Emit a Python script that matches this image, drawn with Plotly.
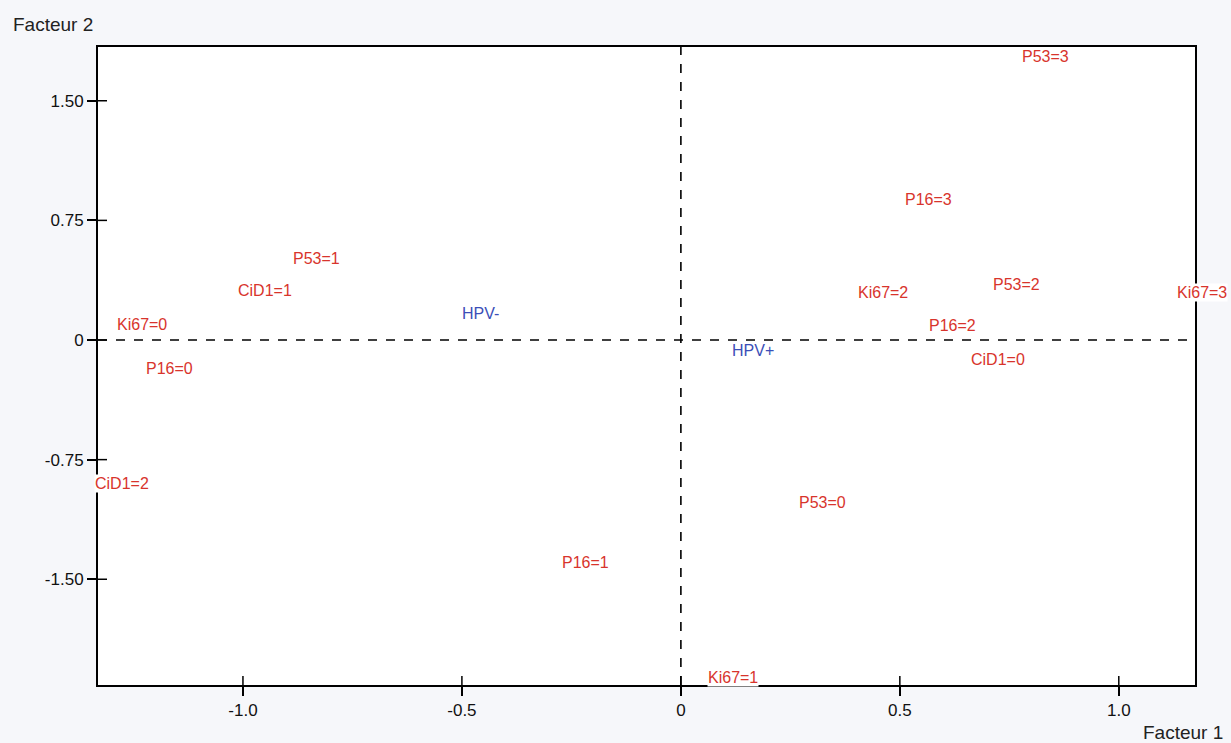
import plotly.graph_objects as go

# Category labels (correspondence analysis)
labels = ["P53=3", "P16=3", "Ki67=2", "P53=2", "Ki67=3", "P16=2", "CiD1=0",
          "HPV-", "HPV+", "P53=0", "P16=1", "Ki67=1", "Ki67=0", "P16=0",
          "CiD1=2", "P53=1", "CiD1=1"]
factor1 = [0.833, 0.566, 0.461, 0.767, 1.190, 0.621, 0.724,
           -0.457, 0.164, 0.324, -0.217, 0.119, -1.231, -1.167,
           -1.276, -0.833, -0.950]
factor2 = [1.78, 0.884, 0.295, 0.351, 0.295, 0.088, -0.125,
           0.169, -0.063, -1.016, -1.392, -2.113, 0.100, -0.176,
           -0.897, 0.514, 0.313]
groups = ["var", "var", "var", "var", "var", "var", "var",
          "sup", "sup", "var", "var", "var", "var", "var",
          "var", "var", "var"]

x_ticks = [-1.0, -0.5, 0, 0.5, 1.0]
x_tick_text = ["-1.0", "-0.5", "0", "0.5", "1.0"]
y_ticks = [1.5, 0.75, 0, -0.75, -1.5]
y_tick_text = ["1.50", "0.75", "0", "-0.75", "-1.50"]

X_RANGE = [-1.331, 1.174]
Y_RANGE = [-2.163, 1.837]

RED = "#d8342c"
BLUE = "#3b4fb8"
FONT = "Liberation Sans, Arial, sans-serif"

fig = go.Figure()
fig.add_trace(go.Scatter(x=factor1, y=factor2, mode="markers",
                         marker=dict(size=1, color="rgba(0,0,0,0)"),
                         hoverinfo="text", text=labels, showlegend=False,
                         cliponaxis=False))

for lab, xv, yv, g in zip(labels, factor1, factor2, groups):
    font = dict(family=FONT, size=16, color=BLUE if g == "sup" else RED)
    if X_RANGE[0] <= xv <= X_RANGE[1]:
        fig.add_annotation(x=xv, y=yv, xref="x", yref="y", text=lab, showarrow=False,
                           font=font, bgcolor="white", borderpad=0,
                           xanchor="center", yanchor="middle")
    else:
        # point lies beyond the frame: place via paper fraction of the same axis
        xp = (xv - X_RANGE[0]) / (X_RANGE[1] - X_RANGE[0])
        fig.add_annotation(x=xp, y=yv, xref="paper", yref="y", text=lab, showarrow=False,
                           font=font, bgcolor="white", borderpad=0,
                           xanchor="center", yanchor="middle")

# dashed axes through origin
fig.add_shape(type="line", xref="paper", yref="y", x0=0, x1=1, y0=0, y1=0,
              line=dict(color="black", width=1.6, dash="dash"), layer="below")
fig.add_shape(type="line", xref="x", yref="paper", x0=0, x1=0, y0=0, y1=1,
              line=dict(color="black", width=1.6, dash="dash"), layer="below")

# inner half of the crossing tick marks
for t in y_ticks:
    fig.add_shape(type="line", xref="paper", xsizemode="pixel", xanchor=0,
                  x0=0, x1=9, yref="y", y0=t, y1=t,
                  line=dict(color="black", width=1.5))
for t in x_ticks:
    fig.add_shape(type="line", yref="paper", ysizemode="pixel", yanchor=0,
                  y0=0, y1=9, xref="x", x0=t, x1=t,
                  line=dict(color="black", width=1.5))

fig.add_annotation(text="Facteur 2", xref="paper", yref="paper", x=-0.079, y=1.036,
                   xanchor="left", yanchor="middle", showarrow=False,
                   font=dict(family=FONT, size=19, color="#222"))
fig.add_annotation(text="Facteur 1", xref="paper", yref="paper", x=1.0274, y=-0.075,
                   xanchor="right", yanchor="middle", showarrow=False,
                   font=dict(family=FONT, size=19, color="#222"))

fig.update_xaxes(range=X_RANGE, tickvals=x_ticks, ticktext=x_tick_text,
                 showgrid=False, zeroline=False, showline=True, mirror=True,
                 linecolor="black", linewidth=2, ticks="outside", ticklen=9,
                 tickwidth=1.5, tickcolor="black",
                 tickfont=dict(family=FONT, size=17, color="#111"))
fig.update_yaxes(range=Y_RANGE, tickvals=y_ticks, ticktext=y_tick_text,
                 showgrid=False, zeroline=False, showline=True, mirror=True,
                 linecolor="black", linewidth=2, ticks="outside", ticklen=9,
                 tickwidth=1.5, tickcolor="black",
                 tickfont=dict(family=FONT, size=17, color="#111"))

fig.update_layout(width=1231, height=743,
                  margin=dict(l=98, r=36, t=47, b=58),
                  paper_bgcolor="#f6f7fa", plot_bgcolor="white",
                  showlegend=False)

fig.write_html("out.html")
